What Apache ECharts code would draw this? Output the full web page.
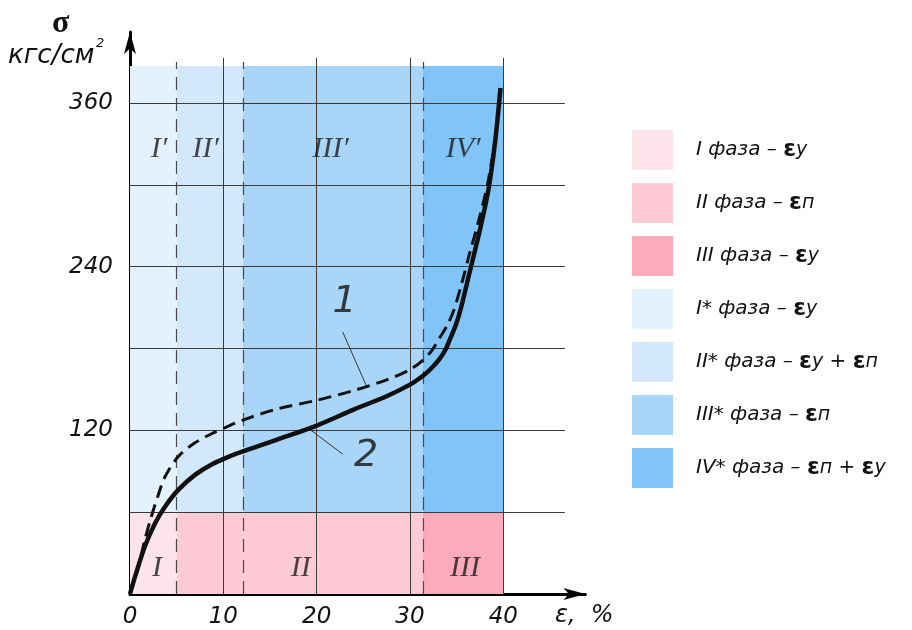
<!DOCTYPE html>
<html><head><meta charset="utf-8">
<script src="https://cdn.jsdelivr.net/npm/echarts@6.0.0/dist/echarts.min.js"></script>
<style>html,body{margin:0;padding:0;background:#fff}#c{width:912px;height:630px}</style>
</head><body><div id="c"></div>
<script>
// ---- data ----
const xTicks = [0, 10, 20, 30, 40];
const yTicks = [120, 240, 360];
const hGrid = [60, 120, 180, 240, 300, 360];
const vGrid = [10, 20, 30, 40];
const dashedBounds = [5, 12.1, 31.4];
// curve 1 (dashed)
const curve1 = [[0,0],[0.9,20],[1.6,40],[2.3,57],[3,72],[3.75,86],[5.2,101],[7,111],[8.75,117.5],[10.2,122],[12.1,127.5],[15.7,135.5],[20,142],[23.9,149],[27.5,157],[30,164.5],[31.4,171.5],[32.4,179],[33.2,188],[34,197],[34.7,208],[35.6,229],[36.4,250],[37.3,272],[38.3,300],[39.1,331]];
// curve 2 (solid)
const curve2 = [[0,0],[0.54,12.7],[1.6,35],[2.7,52],[3.75,64],[5.2,76.5],[7,87.5],[8.75,95],[10.9,101.5],[12.1,104.5],[15.7,113],[20,123.5],[23.9,135],[27.5,145],[30,153.5],[31.4,160],[32.3,165.5],[33.2,172.5],[33.8,179],[34.3,187],[34.9,197],[35.4,208],[36.4,236],[37.5,267],[38.4,296],[39.1,330],[39.7,371]];
// phase zones: [x0, x1, y0, y1]
const pinkZones = [[0,5,0,60],[5,31.4,0,60],[31.4,40,0,60]];
const blueZones = [[0,5,60,387],[5,12.1,60,387],[12.1,31.4,60,387],[31.4,40,60,387]];
const legendPhases = ['I','II','III','I*','II*','III*','IV*'];
const legendStrains = [['у'],['п'],['у'],['у'],['у','п'],['п'],['п','у']];
const zoneColors = ['#fce4ea','#fecad5','#fdabba','#e4f2fd','#d3e9fb','#a8d5f8','#80c4f8'];
const zoneLabels = [['I′',3.1,326],['II′',8.1,326],['III′',21.5,326],['IV′',35.7,326],['I',2.9,19],['II',18.3,19],['III',35.9,19]];
const curveLabels = [['1',23.0,214],['2',25.3,101]];
const leader1 = [[22.8,192],[25.4,151.5]];
const leader2 = [[19.1,121.5],[22.8,102.5]];

// ---- build ----
const legendNames = legendPhases.map((p,i)=>p+' фаза – '+legendStrains[i].map(s=>'ε'+s).join(' + '));
const zones = pinkZones.concat(blueZones);
const gridLines = [];
hGrid.forEach(v=>gridLines.push([{coord:[0,v]},{coord:[46.6,v]}]));
vGrid.forEach(v=>gridLines.push([{coord:[v,0]},{coord:[v,393]}]));
const dashLines = dashedBounds.map(v=>[{coord:[v,0]},{coord:[v,390]}]);

const series = [];
series.push({type:'line',data:[],silent:true,z:1,
  markArea:{silent:true,itemStyle:{borderWidth:0},data:zones.map((z,i)=>[{xAxis:z[0],yAxis:z[2],itemStyle:{color:zoneColors[i]}},{xAxis:z[1],yAxis:z[3]}])}});
series.push({type:'line',data:[],silent:true,z:2,
  markLine:{silent:true,symbol:['none','none'],label:{show:false},lineStyle:{color:'#3a3a3a',width:1,type:'solid'},data:gridLines}});
series.push({type:'line',data:[],silent:true,z:2,
  markLine:{silent:true,symbol:['none','none'],label:{show:false},lineStyle:{color:'#4a4a4a',width:1.2,type:[13,8]},data:dashLines}});
series.push({type:'line',data:curve1,smooth:0.3,showSymbol:false,z:5,silent:true,
  lineStyle:{color:'#111',width:3,type:[13,7]}});
series.push({type:'line',data:curve2,smooth:0.3,showSymbol:false,z:6,silent:true,
  lineStyle:{color:'#111',width:4.5}});
[leader1,leader2].forEach(l=>series.push({type:'line',data:l,showSymbol:false,silent:true,z:4,lineStyle:{color:'#333',width:1}}));
series.push({type:'scatter',symbolSize:0,silent:true,z:7,
  data:zoneLabels.map(l=>({name:l[0],value:[l[1],l[2]]})),
  label:{show:true,position:'inside',formatter:p=>p.name,fontFamily:'Liberation Serif',fontStyle:'italic',fontSize:30,color:'#1a1a1a'}});
series.push({type:'scatter',symbolSize:0,silent:true,z:7,
  data:curveLabels.map(l=>({name:l[0],value:[l[1],l[2]]})),
  label:{show:true,position:'inside',formatter:p=>p.name,fontFamily:'DejaVu Sans',fontStyle:'italic',fontSize:38,color:'#111'}});
legendNames.forEach((n,i)=>series.push({type:'line',name:n,data:[],itemStyle:{color:zoneColors[i]},lineStyle:{color:zoneColors[i]}}));

const chart = echarts.init(document.getElementById('c'));
chart.setOption({
  animation:false,
  backgroundColor:'#fff',
  grid:{left:130,top:32,width:455.4,height:562},
  xAxis:{type:'value',min:0,max:48.8,interval:10,
    axisLine:{show:true,onZero:false,symbol:['none','arrow'],symbolSize:[9,22],lineStyle:{color:'#000',width:3}},
    axisTick:{show:false},splitLine:{show:false},
    axisLabel:{margin:12,fontFamily:'DejaVu Sans',fontStyle:'italic',fontSize:23,color:'#111',
      formatter:v=>xTicks.includes(v)?String(v):''}},
  yAxis:{type:'value',min:0,max:412,interval:120,
    axisLine:{show:true,onZero:false,symbol:['none','arrow'],symbolSize:[9,22],lineStyle:{color:'#000',width:3}},
    axisTick:{show:false},splitLine:{show:false},
    axisLabel:{margin:17,fontFamily:'DejaVu Sans',fontStyle:'italic',fontSize:23,color:'#111',padding:[0,0,20,0],
      formatter:v=>yTicks.includes(v)?String(v):''}},
  legend:{data:legendNames,orient:'vertical',left:627,top:125,itemWidth:41,itemHeight:40,itemGap:13,icon:'rect',selectedMode:false,
    formatter:function(name){
      const i = legendNames.indexOf(name);
      let s = '{t|'+legendPhases[i]+' фаза – }';
      legendStrains[i].forEach((st,k)=>{ if(k>0) s+='{t| + }'; s+='{e|ε}{s|'+st+'}'; });
      return s;
    },
    textStyle:{padding:[0,0,0,18],color:'#111',rich:{
      t:{fontFamily:'DejaVu Sans',fontStyle:'italic',fontSize:20,color:'#111'},
      e:{fontFamily:'DejaVu Sans',fontWeight:'bold',fontSize:23,color:'#111'},
      s:{fontFamily:'DejaVu Sans',fontStyle:'italic',fontSize:19,color:'#111'}}}},
  graphic:[
    {type:'text',left:52,top:8,style:{text:'σ',font:'bold 32px "Liberation Serif"',fill:'#111'}},
    {type:'text',left:8,top:43,style:{text:'кгс/см',font:'italic 26px "DejaVu Sans"',fill:'#111'}},
    {type:'text',left:96,top:37,style:{text:'2',font:'italic 13px "DejaVu Sans"',fill:'#111'}},
    {type:'text',left:555,top:604,style:{text:'ε,  %',font:'italic 24px "DejaVu Sans"',fill:'#111'}}
  ],
  series:series
});
</script></body></html>
